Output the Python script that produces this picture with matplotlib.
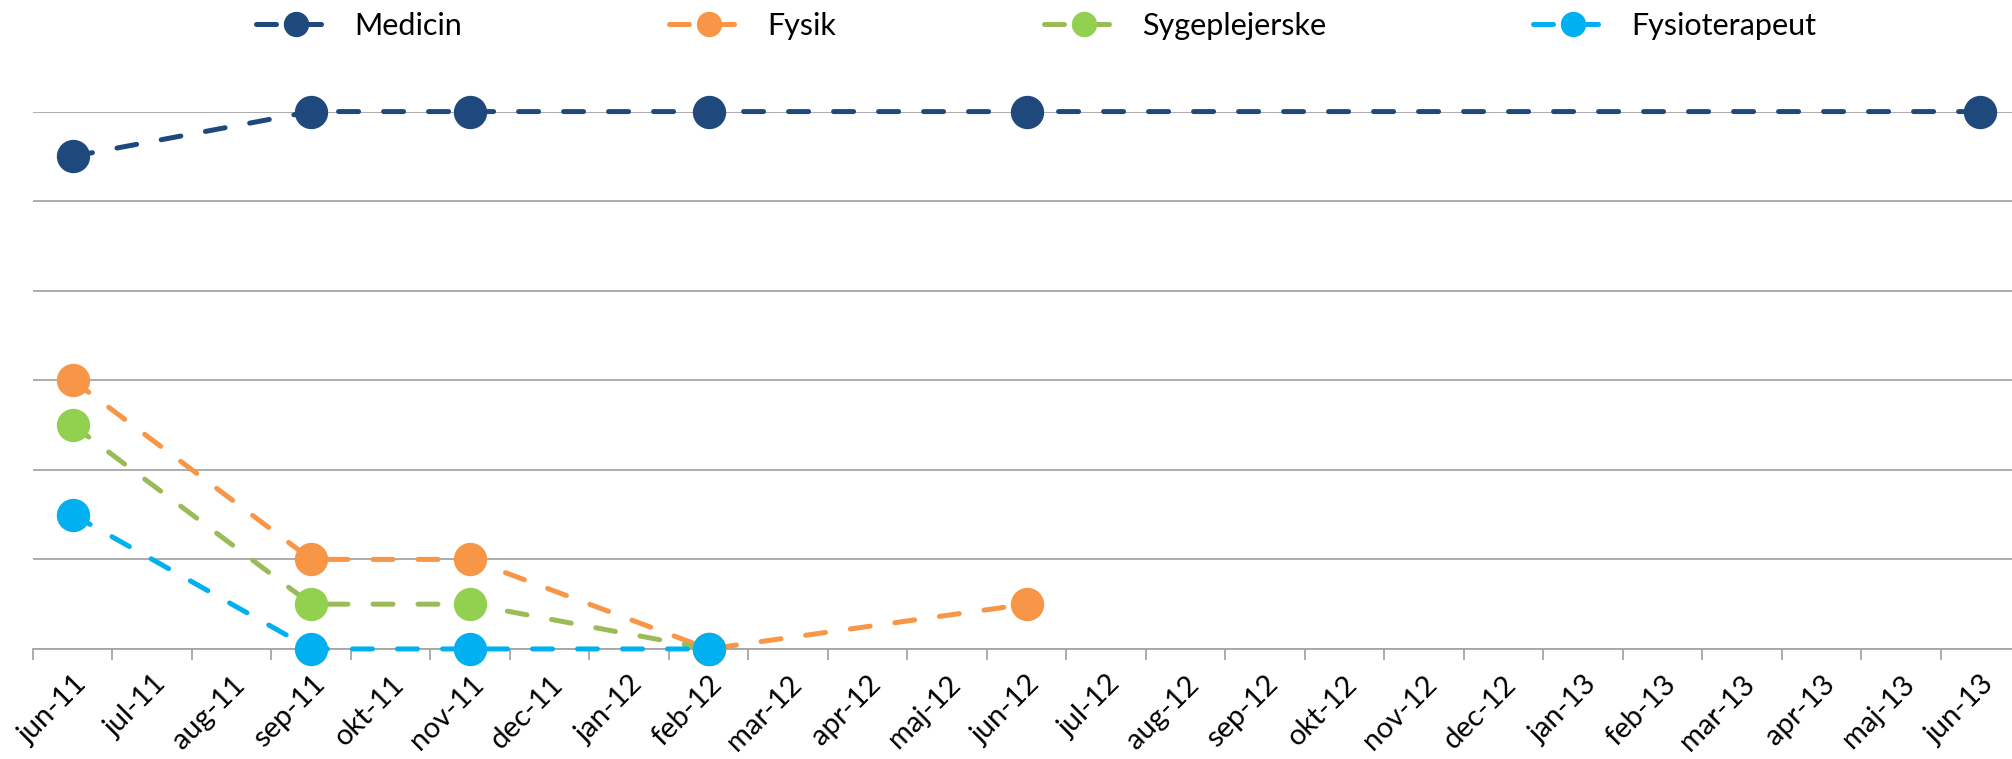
import numpy as np
import matplotlib.pyplot as plt
from matplotlib.ticker import FixedLocator

plt.rcParams['font.family'] = ['Lato', 'DejaVu Sans']

# kategorier (måneder)
months = ['jun-11', 'jul-11', 'aug-11', 'sep-11', 'okt-11', 'nov-11', 'dec-11',
          'jan-12', 'feb-12', 'mar-12', 'apr-12', 'maj-12', 'jun-12', 'jul-12',
          'aug-12', 'sep-12', 'okt-12', 'nov-12', 'dec-12', 'jan-13', 'feb-13',
          'mar-13', 'apr-13', 'maj-13', 'jun-13']

# målinger pr. faggruppe
medicin_x = ['jun-11', 'sep-11', 'nov-11', 'feb-12', 'jun-12', 'jun-13']
medicin_y = [5.5, 6, 6, 6, 6, 6]
fysik_x = ['jun-11', 'sep-11', 'nov-11', 'feb-12', 'jun-12']
fysik_y = [3, 1, 1, 0, 0.5]
syge_x = ['jun-11', 'sep-11', 'nov-11', 'feb-12']
syge_y = [2.5, 0.5, 0.5, 0]
fysio_x = ['jun-11', 'sep-11', 'nov-11', 'feb-12']
fysio_y = [1.5, 0, 0, 0]

series = [
    ('Medicin', medicin_x, medicin_y, '#1F497D', '#1F497D'),
    ('Fysik', fysik_x, fysik_y, '#F79646', '#F79646'),
    ('Sygeplejerske', syge_x, syge_y, '#9BBB59', '#92D050'),
    ('Fysioterapeut', fysio_x, fysio_y, '#00B0F0', '#00B0F0'),
]

fig = plt.figure(figsize=(20.12, 7.59), dpi=100)
ax = fig.add_axes([33 / 2012, 0.145, (2020 - 33) / 2012, 0.708])

for name, xs, ys, lc, mc in series:
    idx = [months.index(m) for m in xs]
    ax.plot(idx, ys, color=lc, lw=3.6, linestyle=(0, (4.0, 5.0)),
            dash_capstyle='round', marker='o', markersize=23,
            markerfacecolor=mc, markeredgecolor=mc, label=name,
            clip_on=False, zorder=3)

ax.set_xlim(-0.5, len(months) - 0.5)
ax.set_ylim(0, 6)
ax.set_yticks(np.arange(0, 7, 1))
ax.yaxis.grid(True, color='#A6A6A6', lw=1.3)
ax.tick_params(axis='y', left=False, labelleft=False)

ax.set_xticks(range(len(months)))
ax.set_xticklabels(months, rotation=45, ha='right', rotation_mode='anchor', fontsize=21)
ax.tick_params(axis='x', which='major', length=0, pad=16)
ax.xaxis.set_minor_locator(FixedLocator(np.arange(-0.5, len(months), 1)))
ax.tick_params(axis='x', which='minor', length=8, width=1.3, color='#A6A6A6')

for s in ['top', 'right', 'left']:
    ax.spines[s].set_visible(False)
ax.spines['bottom'].set_color('#A6A6A6')
ax.spines['bottom'].set_linewidth(1.3)
ax.set_axisbelow(True)

fig.legend(loc='center', bbox_to_anchor=(0.515, 0.966), ncol=4, frameon=False,
           fontsize=22, handlelength=2.6, handletextpad=0.6, columnspacing=6.8,
           markerscale=0.75)

fig.savefig('out.png', dpi=100)
